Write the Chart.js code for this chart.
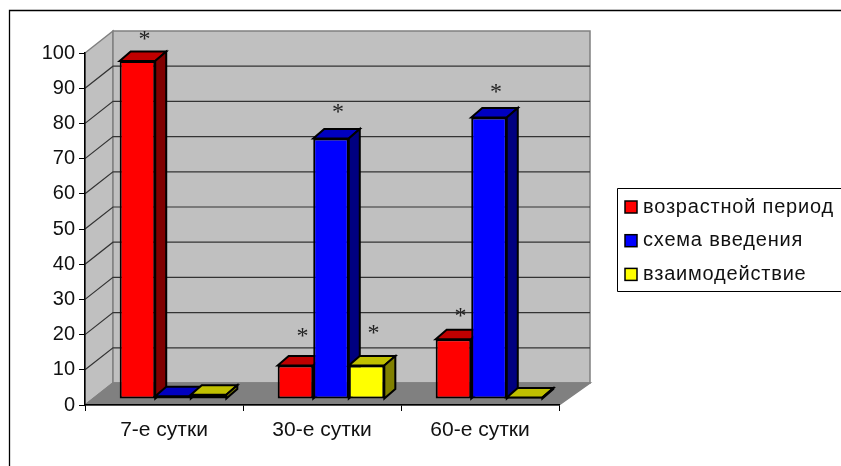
<!DOCTYPE html>
<html>
<head>
<meta charset="utf-8">
<style>
  html, body { margin: 0; padding: 0; background: #fff; }
  #wrap { position: relative; width: 841px; height: 466px; }
</style>
<script src="https://cdn.jsdelivr.net/npm/chart.js@4"></script>
</head>
<body>
<div id="wrap"><canvas id="chart" width="841" height="466"></canvas></div>
<script>
// Chart data
const categories = ['7-е сутки', '30-е сутки', '60-е сутки'];
const seriesNames = ['возрастной период', 'схема введения', 'взаимодействие'];
const ageValues = [96, 9.5, 17];
const schemeValues = [0.8, 74, 80];
const interactionValues = [1.2, 9.5, 0.4];
// Height on the value axis where a significance star sits, per series
const ageStars = [102.6, 18.2, 24];
const schemeStars = [null, 81.8, 87.5];
const interactionStars = [null, 19.1, null];

const FONT = '"Liberation Sans", Arial, sans-serif';

// Shades for the front, top and side of each 3D column
const faces = [
  { front: '#ff0000', top: '#c00000', side: '#800000' },
  { front: '#0000ff', top: '#0000c0', side: '#000080' },
  { front: '#ffff00', top: '#c0c000', side: '#808000' }
];

// Depth of the walls, depth of the columns, and where the columns stand on the floor
const wall = { left: 28, right: 31, rise: 22 };
const col = { dx: 11, dy: 9.5 };
const standOff = { x: 9, y: 6 };

function poly(ctx, pts) {
  ctx.beginPath();
  pts.forEach((p, i) => i ? ctx.lineTo(p[0], p[1]) : ctx.moveTo(p[0], p[1]));
  ctx.closePath();
}

// Walls, floor and the frame around the whole chart
const roomPlugin = {
  id: 'room',
  beforeDraw(chart) {
    const { ctx, chartArea: a, scales: { y } } = chart;
    ctx.save();
    ctx.lineJoin = 'miter';

    ctx.strokeStyle = '#000';
    ctx.lineWidth = 1.3;
    ctx.beginPath();
    ctx.moveTo(9.5, 466);
    ctx.lineTo(9.5, 10.5);
    ctx.lineTo(841, 10.5);
    ctx.stroke();

    const bx0 = a.left + wall.left, bx1 = a.right + wall.right;
    const by0 = a.top - wall.rise, by1 = a.bottom - wall.rise;

    ctx.fillStyle = '#c0c0c0';
    ctx.strokeStyle = '#808080';
    ctx.lineWidth = 1.5;
    poly(ctx, [[a.left, a.top], [bx0, by0], [bx0, by1], [a.left, a.bottom]]);
    ctx.fill();
    ctx.stroke();
    poly(ctx, [[bx0, by0], [bx1, by0], [bx1, by1], [bx0, by1]]);
    ctx.fill();
    ctx.stroke();

    ctx.fillStyle = '#808080';
    poly(ctx, [[a.left, a.bottom], [bx0, by1], [bx1, by1], [a.right, a.bottom]]);
    ctx.fill();
    ctx.stroke();

    // Gridlines run along the side wall and across the back wall
    ctx.strokeStyle = '#333';
    ctx.lineWidth = 1.2;
    y.ticks.forEach(t => {
      if (t.value === 0 || t.value === 100) return;
      const py = y.getPixelForValue(t.value);
      ctx.beginPath();
      ctx.moveTo(a.left, py);
      ctx.lineTo(bx0, py - wall.rise);
      ctx.lineTo(bx1, py - wall.rise);
      ctx.stroke();
    });
    ctx.restore();
  }
};

// Columns stand forward of the back wall and are painted series by series,
// left to right, so each front face covers the side of the column before it
const columnPlugin = {
  id: 'columns',
  beforeDatasetsDraw(chart) {
    const { ctx } = chart;
    ctx.save();
    ctx.translate(standOff.x, -standOff.y);
    chart.getSortedVisibleDatasetMetas().forEach(meta => {
      const shade = faces[meta.index];
      ctx.strokeStyle = '#000';
      ctx.lineWidth = 2;
      ctx.lineJoin = 'miter';
      meta.data.forEach(bar => {
        const { x, y, base, width } = bar.getProps(['x', 'y', 'base', 'width']);
        const l = x - width / 2, r = x + width / 2;
        poly(ctx, [[l, y], [l + col.dx, y - col.dy], [r + col.dx, y - col.dy], [r, y]]);
        ctx.fillStyle = shade.top;
        ctx.fill();
        ctx.stroke();
        poly(ctx, [[r, y], [r + col.dx, y - col.dy], [r + col.dx, base - col.dy], [r, base]]);
        ctx.fillStyle = shade.side;
        ctx.fill();
        ctx.stroke();
      });
      meta.controller.draw();
    });
    ctx.restore();
    return false;
  }
};

// Stars above the columns and the legend box
const notesPlugin = {
  id: 'notes',
  afterDraw(chart) {
    const { ctx, scales: { y } } = chart;
    ctx.save();

    ctx.fillStyle = '#222';
    ctx.font = '24px "Liberation Serif", serif';
    ctx.textAlign = 'center';
    ctx.textBaseline = 'alphabetic';
    [ageStars, schemeStars, interactionStars].forEach((stars, s) => {
      const bars = chart.getDatasetMeta(s).data;
      stars.forEach((v, i) => {
        if (v === null) return;
        ctx.fillText('*', bars[i].x + 16, y.getPixelForValue(v) + 2);
      });
    });

    ctx.strokeStyle = '#000';
    ctx.lineWidth = 1;
    ctx.beginPath();
    ctx.moveTo(841, 188.5);
    ctx.lineTo(617.5, 188.5);
    ctx.lineTo(617.5, 291.5);
    ctx.lineTo(841, 291.5);
    ctx.stroke();

    ctx.font = '20px ' + FONT;
    ctx.textAlign = 'left';
    ctx.textBaseline = 'middle';
    ctx.letterSpacing = '0.8px';
    seriesNames.forEach((name, i) => {
      const cy = 207 + i * 33.7;
      ctx.fillStyle = faces[i].front;
      ctx.strokeStyle = '#000';
      ctx.lineWidth = 1.5;
      ctx.fillRect(625, cy - 6, 12, 12);
      ctx.strokeRect(625, cy - 6, 12, 12);
      ctx.fillStyle = '#111';
      ctx.fillText(name, 643, cy);
    });
    ctx.restore();
  }
};

new Chart(document.getElementById('chart'), {
  type: 'bar',
  data: {
    labels: categories,
    datasets: [ageValues, schemeValues, interactionValues].map((data, i) => ({
      label: seriesNames[i],
      data,
      backgroundColor: faces[i].front,
      borderColor: '#000',
      borderWidth: 2,
      borderSkipped: false,
      clip: false
    }))
  },
  options: {
    responsive: false,
    animation: false,
    categoryPercentage: 0.675,
    barPercentage: 1,
    layout: { padding: { top: 53, right: 282, left: 0, bottom: 0 } },
    plugins: { legend: { display: false }, tooltip: { enabled: false } },
    scales: {
      x: {
        afterFit(scale) { scale.height = 61; },
        grid: { drawOnChartArea: false, color: '#000', tickLength: 6 },
        border: { color: '#000', width: 1.5 },
        ticks: { color: '#111', font: { family: FONT, size: 21 }, padding: 7, maxRotation: 0 }
      },
      y: {
        min: 0,
        max: 100,
        afterFit(scale) { scale.width = 85; },
        grid: { drawOnChartArea: false, color: '#000', tickLength: 6 },
        border: { color: '#000', width: 1.5 },
        ticks: { stepSize: 10, color: '#111', font: { family: FONT, size: 20 }, padding: 4 }
      }
    }
  },
  plugins: [roomPlugin, columnPlugin, notesPlugin]
});
</script>
</body>
</html>
